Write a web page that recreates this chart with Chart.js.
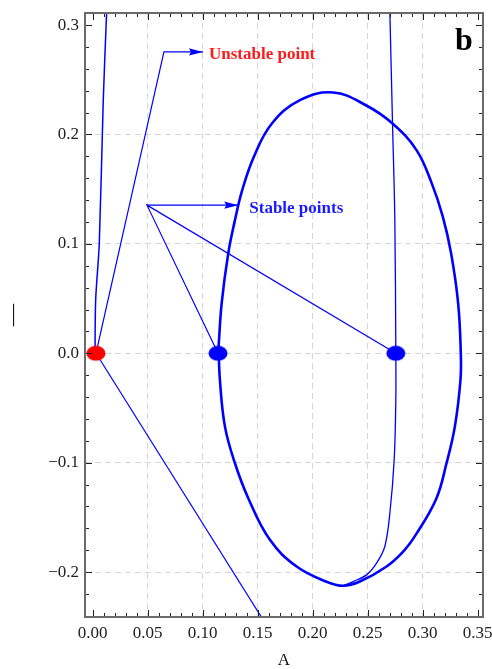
<!DOCTYPE html>
<html>
<head>
<meta charset="utf-8">
<script src="https://cdn.jsdelivr.net/npm/chart.js@4.4.1/dist/chart.umd.min.js"></script>
<style>
  html, body { margin: 0; padding: 0; background: #fff; }
</style>
</head>
<body>
<canvas id="phasePlot" width="492" height="669"></canvas>
<script>
// axis ticks
const xTickValues = [0, 0.05, 0.1, 0.15, 0.2, 0.25, 0.3, 0.35];
const xTickLabels = ['0.00', '0.05', '0.10', '0.15', '0.20', '0.25', '0.30', '0.35'];
const yTickValues = [-0.2, -0.1, 0, 0.1, 0.2, 0.3];
const yTickLabels = ['\u22120.2', '\u22120.1', '0.0', '0.1', '0.2', '0.3'];

// closed orbit (thick loop)
const loopX = [0.1145, 0.1173, 0.1233, 0.1294, 0.1360, 0.1466, 0.1630, 0.1885, 0.2187, 0.2485,
               0.2727, 0.2945, 0.3084, 0.3185, 0.3260, 0.3324, 0.3348, 0.3345, 0.3294, 0.3218,
               0.3127, 0.2948, 0.2830, 0.2673, 0.2430, 0.2278, 0.2127, 0.1855, 0.1612, 0.1415,
               0.1294, 0.1203, 0.1157, 0.1145];
const loopY = [0.006, 0.0457, 0.0913, 0.1217, 0.1491, 0.1797, 0.2100, 0.2313, 0.2384, 0.2267,
               0.2100, 0.1857, 0.1553, 0.1247, 0.0913, 0.0457, 0.0, -0.0244, -0.0670, -0.1005,
               -0.1324, -0.1644, -0.1806, -0.1949, -0.2086, -0.2125, -0.2088, -0.1949, -0.1705, -0.1324,
               -0.1005, -0.0670, -0.0244, 0.006];

// right branch (nearly vertical, bends into the loop bottom)
const branchX = [0.2703, 0.2727, 0.2748, 0.2757, 0.2757, 0.2742, 0.2703, 0.2657, 0.2582, 0.2491, 0.2369, 0.2278];
const branchY = [0.312, 0.210, 0.122, 0.0, -0.043, -0.0975, -0.146, -0.1766, -0.1918, -0.2025, -0.2086, -0.2125];

// steep branch leaving the origin
const steepX = [0.0021, 0.0027, 0.0060, 0.0096, 0.0127];
const steepY = [0.0, 0.0487, 0.1005, 0.2313, 0.312];

// straight line through the origin
const rayX = [0.003, 0.1652];
const rayY = [0.0, -0.26];

// equilibria
const unstableX = [0.003];
const unstableY = [0.0];
const stableX = [0.114, 0.2757];
const stableY = [0.0, 0.0];

// annotation leaders
const unstableArrowX = [0.003, 0.0648, 0.1003];
const unstableArrowY = [0.0, 0.2754, 0.2754];
const stableHubX = 0.0494, stableHubY = 0.1354;
const stableArrowX = [stableHubX, 0.1324];
const stableArrowY = [stableHubY, stableHubY];

const zip = (xs, ys) => xs.map((x, i) => ({ x: x, y: ys[i] }));

// filled ellipse used as point marker
function ellipseMarker(color) {
    const c = document.createElement('canvas');
    c.width = 20; c.height = 16;
    const g = c.getContext('2d');
    g.fillStyle = color;
    g.beginPath();
    g.ellipse(10, 8, 9.5, 7.5, 0, 0, Math.PI * 2);
    g.fill();
    return c;
}

const SERIF = '"Liberation Serif", "DejaVu Serif", serif';
const BLUE = '#0000ff';

function line(ctx, x0, y0, x1, y1) {
    ctx.beginPath(); ctx.moveTo(x0, y0); ctx.lineTo(x1, y1); ctx.stroke();
}

function arrowHead(ctx, x0, y0, x1, y1) {
    const ang = Math.atan2(y1 - y0, x1 - x0);
    ctx.save();
    ctx.translate(x1, y1);
    ctx.rotate(ang);
    ctx.beginPath();
    ctx.moveTo(0, 0);
    ctx.lineTo(-14, -3.6);
    ctx.lineTo(-12, 0);
    ctx.lineTo(-14, 3.6);
    ctx.closePath();
    ctx.fill();
    ctx.restore();
}

// frame, inward ticks, arrow heads and labels
const framePlugin = {
    id: 'frame',
    afterDraw(chart) {
        const { ctx, chartArea: a, scales: { x, y } } = chart;
        ctx.save();
        ctx.strokeStyle = '#222';
        ctx.lineWidth = 1;
        for (let i = 0; i <= 35; i++) {
            const px = Math.round(x.getPixelForValue(i / 100)) + 0.5;
            const len = i % 5 === 0 ? 7 : 4;
            line(ctx, px, a.bottom, px, a.bottom - len);
            line(ctx, px, a.top, px, a.top + len);
        }
        for (let i = -12; i <= 15; i++) {
            const py = Math.round(y.getPixelForValue(i / 50)) + 0.5;
            const len = i % 5 === 0 ? 7 : 4;
            line(ctx, a.left, py, a.left + len, py);
            line(ctx, a.right, py, a.right - len, py);
        }
        ctx.strokeStyle = '#6a6a6a';
        ctx.lineWidth = 2;
        ctx.strokeRect(a.left, a.top, a.right - a.left, a.bottom - a.top);

        ctx.fillStyle = BLUE;
        const n = unstableArrowX.length;
        arrowHead(ctx,
            x.getPixelForValue(unstableArrowX[n - 2]), y.getPixelForValue(unstableArrowY[n - 2]),
            x.getPixelForValue(unstableArrowX[n - 1]), y.getPixelForValue(unstableArrowY[n - 1]));
        arrowHead(ctx,
            x.getPixelForValue(stableArrowX[0]), y.getPixelForValue(stableArrowY[0]),
            x.getPixelForValue(stableArrowX[1]), y.getPixelForValue(stableArrowY[1]));

        ctx.font = 'bold 17px ' + SERIF;
        ctx.textBaseline = 'alphabetic';
        ctx.textAlign = 'left';
        ctx.fillStyle = '#ff1a1a';
        ctx.fillText('Unstable point',
            x.getPixelForValue(unstableArrowX[n - 1]) + 6, y.getPixelForValue(unstableArrowY[n - 1]) + 7);
        ctx.fillStyle = '#1a1aff';
        ctx.fillText('Stable points',
            x.getPixelForValue(stableArrowX[1]) + 11, y.getPixelForValue(stableArrowY[1]) + 7.5);

        ctx.fillStyle = '#000';
        ctx.font = 'bold 32px ' + SERIF;
        ctx.fillText('b', a.right - 28, a.top + 37);
        ctx.restore();
    }
};

const curve = (xs, ys, width, tension) => ({
    data: zip(xs, ys),
    showLine: true,
    borderColor: BLUE,
    borderWidth: width,
    pointRadius: 0,
    tension: tension,
    fill: false
});

const marker = (xs, ys, img) => ({
    data: zip(xs, ys),
    showLine: false,
    pointStyle: img,
    pointRadius: 9,
    backgroundColor: 'transparent',
    borderWidth: 0
});

const tickFont = { family: SERIF, size: 17 };
const gridColor = (c, lo, hi) => (c.tick && c.tick.value > lo && c.tick.value < hi) ? '#d6d6d6' : 'rgba(0,0,0,0)';

const ctx = document.getElementById('phasePlot').getContext('2d');
const phaseChart = new Chart(ctx, {
    type: 'scatter',
    data: {
        datasets: [
            marker(unstableX, unstableY, ellipseMarker('#ff0000')),
            marker(stableX, stableY, ellipseMarker('#0000ff')),
            curve(unstableArrowX, unstableArrowY, 1.2, 0),
            curve([stableX[0], stableHubX, stableX[1]], [stableY[0], stableHubY, stableY[1]], 1.2, 0),
            curve(stableArrowX, stableArrowY, 1.2, 0),
            curve(loopX, loopY, 2.6, 0.4),
            curve(branchX, branchY, 1.3, 0.35),
            curve(steepX, steepY, 1.5, 0.3),
            curve(rayX, rayY, 1.2, 0)
        ]
    },
    options: {
        responsive: false,
        animation: false,
        events: [],
        layout: { padding: { top: 13, right: 9, left: 0, bottom: 0 } },
        plugins: {
            legend: { display: false },
            tooltip: { enabled: false }
        },
        scales: {
            x: {
                type: 'linear',
                min: -0.007,
                max: 0.355,
                afterBuildTicks: s => { s.ticks = xTickValues.map(v => ({ value: v })); },
                afterFit: s => { s.height = 52; s.paddingLeft = 0; s.paddingRight = 0; },
                ticks: {
                    callback: (v, i) => xTickLabels[i],
                    font: tickFont,
                    color: '#222',
                    padding: 6,
                    maxRotation: 0,
                    autoSkip: false
                },
                grid: { drawTicks: false, lineWidth: 1, color: c => gridColor(c, 0.01, 0.34) },
                border: { display: false, dash: [6, 4] },
                title: { display: true, text: 'A', font: { family: SERIF, size: 17 }, color: '#111', padding: { top: 0, bottom: -2 } }
            },
            y: {
                type: 'linear',
                min: -0.241,
                max: 0.311,
                afterBuildTicks: s => { s.ticks = yTickValues.map(v => ({ value: v })); },
                afterFit: s => { s.width = 85; s.paddingTop = 0; s.paddingBottom = 0; },
                ticks: {
                    callback: (v, i) => yTickLabels[i],
                    font: tickFont,
                    color: '#222',
                    padding: 6,
                    autoSkip: false
                },
                grid: { drawTicks: false, lineWidth: 1, color: c => gridColor(c, -0.25, 0.25) },
                border: { display: false, dash: [6, 4] },
                title: { display: true, text: '\u2014', font: { family: SERIF, size: 22 }, color: '#000', padding: 0 }
            }
        }
    },
    plugins: [framePlugin]
});
</script>
</body>
</html>
